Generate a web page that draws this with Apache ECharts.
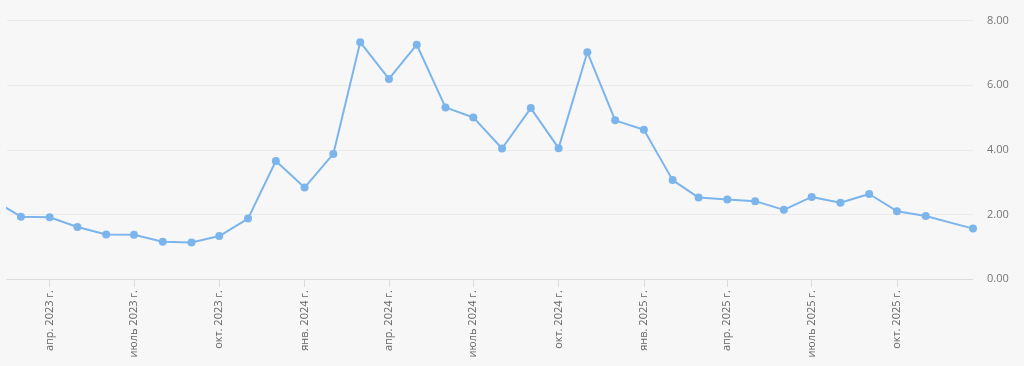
<!DOCTYPE html>
<html>
<head>
<meta charset="utf-8">
<script src="https://cdn.jsdelivr.net/npm/echarts@6/dist/echarts.min.js"></script>
<style>
html,body{margin:0;padding:0;background:#f7f7f8;}
#c{width:1024px;height:366px;}
</style>
</head>
<body>
<div id="c"></div>
<script>
// Data
const dates = [
  '2023-02-01','2023-03-01','2023-04-01','2023-05-01','2023-06-01','2023-07-01','2023-08-01',
  '2023-09-01','2023-10-01','2023-11-01','2023-12-01','2024-01-01','2024-02-01','2024-03-01',
  '2024-04-01','2024-05-01','2024-06-01','2024-07-01','2024-08-01','2024-09-01','2024-10-01',
  '2024-11-01','2024-12-01','2025-01-01','2025-02-01','2025-03-01','2025-04-01','2025-05-01',
  '2025-06-01','2025-07-01','2025-08-01','2025-09-01','2025-10-01','2025-11-01','2025-12-22'
];
const values = [
  2.41, 1.93, 1.91, 1.61, 1.38, 1.37, 1.15,
  1.13, 1.33, 1.87, 3.65, 2.83, 3.87, 7.33,
  6.19, 7.25, 5.31, 5.00, 4.04, 5.29, 4.05,
  7.02, 4.91, 4.62, 3.06, 2.52, 2.46, 2.41,
  2.14, 2.54, 2.36, 2.63, 2.10, 1.95, 1.56
];
const tickDates = [
  '2023-04-01','2023-07-01','2023-10-01','2024-01-01','2024-04-01','2024-07-01',
  '2024-10-01','2025-01-01','2025-04-01','2025-07-01','2025-10-01'
];
const tickLabels = [
  'апр. 2023 г.','июль 2023 г.','окт. 2023 г.','янв. 2024 г.','апр. 2024 г.','июль 2024 г.',
  'окт. 2024 г.','янв. 2025 г.','апр. 2025 г.','июль 2025 г.','окт. 2025 г.'
];
const xMin = '2023-02-14';
const xMax = '2025-12-22';
const yTicks = [0, 2, 4, 6, 8];

function ts(s){ return Date.UTC(+s.slice(0,4), +s.slice(5,7) - 1, +s.slice(8,10)); }
const tickTs = tickDates.map(ts);

const chart = echarts.init(document.getElementById('c'), null, {renderer:'canvas'});
chart.setOption({
  backgroundColor: '#f7f7f8',
  animation: false,
  grid: {left: 7, right: 51, top: 20.5, bottom: 87, containLabel: false},
  xAxis: {
    type: 'value',
    min: ts(xMin),
    max: ts(xMax),
    axisLine: {show: true, lineStyle: {color: '#dcdcdc', width: 1}},
    axisTick: {show: true, length: 8, lineStyle: {color: '#dcdcdc'}, customValues: tickTs},
    axisLabel: {
      customValues: tickTs,
      rotate: 90,
      margin: 11,
      color: '#666',
      fontSize: 11,
      fontFamily: 'Open Sans',
      formatter: function(v){
        const i = tickTs.indexOf(v);
        return i >= 0 ? tickLabels[i] : '';
      }
    },
    splitLine: {show: false}
  },
  yAxis: {
    type: 'value',
    position: 'right',
    min: yTicks[0],
    max: yTicks[yTicks.length - 1],
    interval: 2,
    axisLine: {show: false},
    axisTick: {show: false},
    axisLabel: {
      margin: 14,
      color: '#777',
      fontSize: 11,
      fontFamily: 'Open Sans',
      formatter: function(v){ return v.toFixed(2); }
    },
    splitLine: {show: true, lineStyle: {color: '#ebebeb', width: 1}}
  },
  series: [{
    type: 'line',
    data: dates.map((d, i) => [ts(d), values[i]]),
    clip: true,
    symbol: 'circle',
    symbolSize: 8,
    showAllSymbol: true,
    lineStyle: {color: '#7cb5ec', width: 2},
    itemStyle: {color: '#7cb5ec'}
  }]
});
</script>
</body>
</html>
